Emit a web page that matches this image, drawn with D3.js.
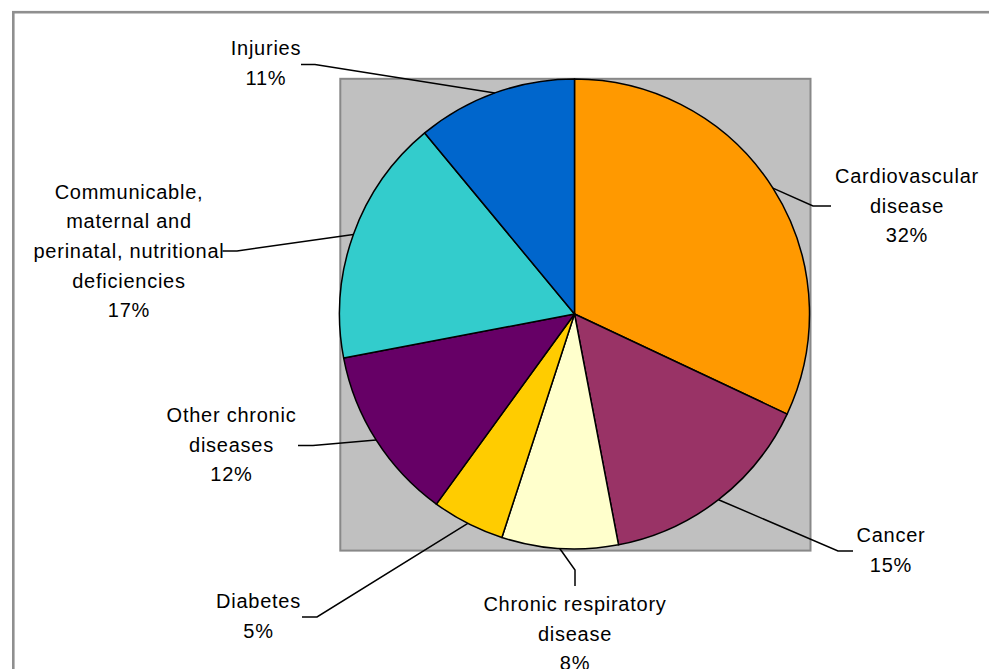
<!DOCTYPE html>
<html>
<head>
<meta charset="utf-8">
<script src="https://cdn.jsdelivr.net/npm/d3@7/dist/d3.min.js"></script>
<style>
  html, body { margin: 0; padding: 0; background: #ffffff; }
  svg { display: block; }
  text { font-family: "Liberation Sans", Arial, sans-serif; font-size: 20px; fill: #000; letter-spacing: 0.75px; }
</style>
</head>
<body>
<svg id="chart" width="989" height="669"></svg>
<script>
// Share of deaths by cause, in percent (clockwise from 12 o'clock)
const causes = [
  "Cardiovascular disease",
  "Cancer",
  "Chronic respiratory disease",
  "Diabetes",
  "Other chronic diseases",
  "Communicable, maternal and perinatal, nutritional deficiencies",
  "Injuries"
];
const shares = [32, 15, 8, 5, 12, 17, 11];
const sliceColors = ["#FF9900", "#993366", "#FFFFCC", "#FFCC00", "#660066", "#33CCCC", "#0066CC"];

// Lines of each label as they wrap on the page
const labelLines = [
  ["Cardiovascular", "disease"],
  ["Cancer"],
  ["Chronic respiratory", "disease"],
  ["Diabetes"],
  ["Other chronic", "diseases"],
  ["Communicable,", "maternal and", "perinatal, nutritional", "deficiencies"],
  ["Injuries"]
];

// Label placement: text centre x, first baseline y, leader elbow and end point
const labelLayout = [
  { x: 907, y: 183, elbow: [813, 206], end: [831, 206] },
  { x: 891, y: 542, elbow: [838, 551], end: [853, 551] },
  { x: 575, y: 611, elbow: [575, 570], end: [575, 586] },
  { x: 258.5, y: 608, elbow: [317, 617], end: [302, 617] },
  { x: 231.5, y: 422, elbow: [313, 445.5], end: [298, 445.5] },
  { x: 129, y: 198.5, elbow: [237, 251], end: [222.5, 251] },
  { x: 266, y: 55, elbow: [315, 64.5], end: [301, 64.5] }
];

const svg = d3.select("#chart");
const lineGap = 29.7;

// Outer chart frame
svg.append("rect")
  .attr("x", 13.3).attr("y", 12.2)
  .attr("width", 1000).attr("height", 700)
  .attr("fill", "#ffffff")
  .attr("stroke", "#8f8f8f")
  .attr("stroke-width", 2.6);

// Plot area
svg.append("rect")
  .attr("x", 340.3).attr("y", 78.8)
  .attr("width", 470.2).attr("height", 471.8)
  .attr("fill", "#C0C0C0")
  .attr("stroke", "#888888")
  .attr("stroke-width", 2);

const cx = 574.5, cy = 314, radius = 235;

const pie = d3.pie().sort(null).value(d => d.value);
const arcs = pie(shares.map((v, i) => ({ value: v, i })));
const arc = d3.arc().innerRadius(0).outerRadius(radius);

const g = svg.append("g").attr("transform", `translate(${cx},${cy})`);

g.selectAll("path.slice")
  .data(arcs)
  .join("path")
  .attr("class", "slice")
  .attr("d", arc)
  .attr("fill", d => sliceColors[d.data.i])
  .attr("stroke", "#000")
  .attr("stroke-width", 1.5)
  .attr("stroke-linejoin", "round");

// Leader lines from each slice's mid-angle on the rim to its label
const leaders = svg.append("g");
arcs.forEach((d, i) => {
  const mid = (d.startAngle + d.endAngle) / 2;
  const rim = [cx + radius * Math.sin(mid), cy - radius * Math.cos(mid)];
  const L = labelLayout[i];
  leaders.append("path")
    .attr("d", d3.line()([rim, L.elbow, L.end]))
    .attr("fill", "none")
    .attr("stroke", "#000")
    .attr("stroke-width", 1.5);
});

// Labels: category name lines followed by the rounded share
const labels = svg.append("g");
arcs.forEach((d, i) => {
  const L = labelLayout[i];
  const lines = labelLines[i].concat([d3.format(".0f")(shares[i]) + "%"]);
  const t = labels.append("text")
    .attr("text-anchor", "middle")
    .attr("x", L.x).attr("y", L.y);
  lines.forEach((s, k) => {
    t.append("tspan")
      .attr("x", L.x)
      .attr("y", L.y + k * lineGap)
      .text(s);
  });
});
</script>
</body>
</html>
